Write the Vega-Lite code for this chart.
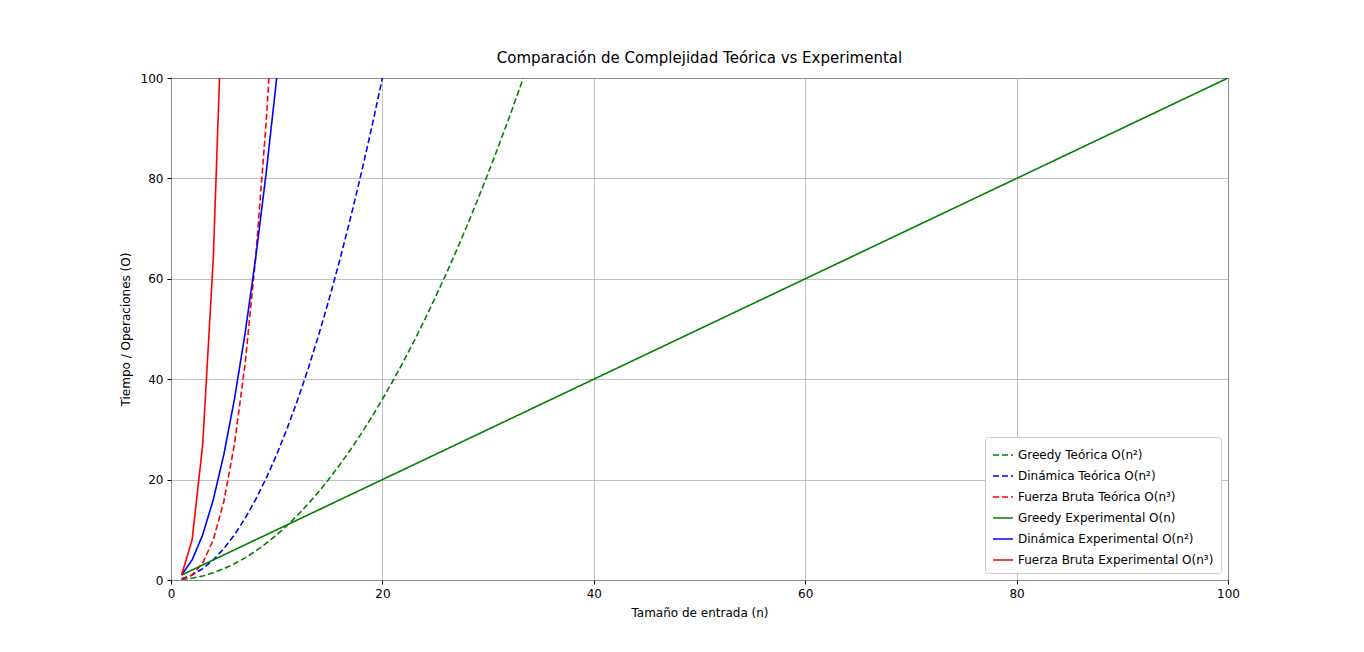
{
  "$schema": "https://vega.github.io/schema/vega-lite/v6.json",
  "width": 1057,
  "height": 502,
  "autosize": "none",
  "padding": {"left": 171, "top": 78, "right": 136, "bottom": 72},
  "title": {"text": "Comparación de Complejidad Teórica vs Experimental", "font": "DejaVu Sans", "fontSize": 15, "fontWeight": "normal", "color": "black", "offset": 6},
  "data": {"values": [
    {"s": "Greedy Teórica O(n²)", "n": 1, "y": 0.09}, {"s": "Greedy Teórica O(n²)", "n": 2, "y": 0.36}, {"s": "Greedy Teórica O(n²)", "n": 3, "y": 0.81}, {"s": "Greedy Teórica O(n²)", "n": 4, "y": 1.44}, {"s": "Greedy Teórica O(n²)", "n": 5, "y": 2.25}, {"s": "Greedy Teórica O(n²)", "n": 6, "y": 3.24}, {"s": "Greedy Teórica O(n²)", "n": 7, "y": 4.41}, {"s": "Greedy Teórica O(n²)", "n": 8, "y": 5.76}, {"s": "Greedy Teórica O(n²)", "n": 9, "y": 7.29}, {"s": "Greedy Teórica O(n²)", "n": 10, "y": 9}, {"s": "Greedy Teórica O(n²)", "n": 11, "y": 10.89}, {"s": "Greedy Teórica O(n²)", "n": 12, "y": 12.96}, {"s": "Greedy Teórica O(n²)", "n": 13, "y": 15.21}, {"s": "Greedy Teórica O(n²)", "n": 14, "y": 17.64}, {"s": "Greedy Teórica O(n²)", "n": 15, "y": 20.25}, {"s": "Greedy Teórica O(n²)", "n": 16, "y": 23.04}, {"s": "Greedy Teórica O(n²)", "n": 17, "y": 26.01}, {"s": "Greedy Teórica O(n²)", "n": 18, "y": 29.16}, {"s": "Greedy Teórica O(n²)", "n": 19, "y": 32.49}, {"s": "Greedy Teórica O(n²)", "n": 20, "y": 36}, {"s": "Greedy Teórica O(n²)", "n": 21, "y": 39.69}, {"s": "Greedy Teórica O(n²)", "n": 22, "y": 43.56}, {"s": "Greedy Teórica O(n²)", "n": 23, "y": 47.61}, {"s": "Greedy Teórica O(n²)", "n": 24, "y": 51.84}, {"s": "Greedy Teórica O(n²)", "n": 25, "y": 56.25}, {"s": "Greedy Teórica O(n²)", "n": 26, "y": 60.84}, {"s": "Greedy Teórica O(n²)", "n": 27, "y": 65.61}, {"s": "Greedy Teórica O(n²)", "n": 28, "y": 70.56}, {"s": "Greedy Teórica O(n²)", "n": 29, "y": 75.69}, {"s": "Greedy Teórica O(n²)", "n": 30, "y": 81}, {"s": "Greedy Teórica O(n²)", "n": 31, "y": 86.49}, {"s": "Greedy Teórica O(n²)", "n": 32, "y": 92.16}, {"s": "Greedy Teórica O(n²)", "n": 33, "y": 98.01}, {"s": "Greedy Teórica O(n²)", "n": 34, "y": 104.04},
    {"s": "Dinámica Teórica O(n²)", "n": 1, "y": 0.25}, {"s": "Dinámica Teórica O(n²)", "n": 2, "y": 1}, {"s": "Dinámica Teórica O(n²)", "n": 3, "y": 2.25}, {"s": "Dinámica Teórica O(n²)", "n": 4, "y": 4}, {"s": "Dinámica Teórica O(n²)", "n": 5, "y": 6.25}, {"s": "Dinámica Teórica O(n²)", "n": 6, "y": 9}, {"s": "Dinámica Teórica O(n²)", "n": 7, "y": 12.25}, {"s": "Dinámica Teórica O(n²)", "n": 8, "y": 16}, {"s": "Dinámica Teórica O(n²)", "n": 9, "y": 20.25}, {"s": "Dinámica Teórica O(n²)", "n": 10, "y": 25}, {"s": "Dinámica Teórica O(n²)", "n": 11, "y": 30.25}, {"s": "Dinámica Teórica O(n²)", "n": 12, "y": 36}, {"s": "Dinámica Teórica O(n²)", "n": 13, "y": 42.25}, {"s": "Dinámica Teórica O(n²)", "n": 14, "y": 49}, {"s": "Dinámica Teórica O(n²)", "n": 15, "y": 56.25}, {"s": "Dinámica Teórica O(n²)", "n": 16, "y": 64}, {"s": "Dinámica Teórica O(n²)", "n": 17, "y": 72.25}, {"s": "Dinámica Teórica O(n²)", "n": 18, "y": 81}, {"s": "Dinámica Teórica O(n²)", "n": 19, "y": 90.25}, {"s": "Dinámica Teórica O(n²)", "n": 20, "y": 100},
    {"s": "Fuerza Bruta Teórica O(n³)", "n": 1, "y": 0.125}, {"s": "Fuerza Bruta Teórica O(n³)", "n": 2, "y": 1}, {"s": "Fuerza Bruta Teórica O(n³)", "n": 3, "y": 3.375}, {"s": "Fuerza Bruta Teórica O(n³)", "n": 4, "y": 8}, {"s": "Fuerza Bruta Teórica O(n³)", "n": 5, "y": 15.625}, {"s": "Fuerza Bruta Teórica O(n³)", "n": 6, "y": 27}, {"s": "Fuerza Bruta Teórica O(n³)", "n": 7, "y": 42.875}, {"s": "Fuerza Bruta Teórica O(n³)", "n": 8, "y": 64}, {"s": "Fuerza Bruta Teórica O(n³)", "n": 9, "y": 91.125}, {"s": "Fuerza Bruta Teórica O(n³)", "n": 10, "y": 125},
    {"s": "Greedy Experimental O(n)", "n": 1, "y": 1}, {"s": "Greedy Experimental O(n)", "n": 100, "y": 100},
    {"s": "Dinámica Experimental O(n²)", "n": 1, "y": 1}, {"s": "Dinámica Experimental O(n²)", "n": 2, "y": 4}, {"s": "Dinámica Experimental O(n²)", "n": 3, "y": 9}, {"s": "Dinámica Experimental O(n²)", "n": 4, "y": 16}, {"s": "Dinámica Experimental O(n²)", "n": 5, "y": 25}, {"s": "Dinámica Experimental O(n²)", "n": 6, "y": 36}, {"s": "Dinámica Experimental O(n²)", "n": 7, "y": 49}, {"s": "Dinámica Experimental O(n²)", "n": 8, "y": 64}, {"s": "Dinámica Experimental O(n²)", "n": 9, "y": 81}, {"s": "Dinámica Experimental O(n²)", "n": 10, "y": 100},
    {"s": "Fuerza Bruta Experimental O(n³)", "n": 1, "y": 1}, {"s": "Fuerza Bruta Experimental O(n³)", "n": 2, "y": 8}, {"s": "Fuerza Bruta Experimental O(n³)", "n": 3, "y": 27}, {"s": "Fuerza Bruta Experimental O(n³)", "n": 4, "y": 64}, {"s": "Fuerza Bruta Experimental O(n³)", "n": 5, "y": 125}
  ]},
  "mark": {"type": "line", "clip": true, "strokeWidth": 1.6},
  "encoding": {
    "x": {"field": "n", "type": "quantitative", "scale": {"domain": [0, 100], "nice": false}, "title": "Tamaño de entrada (n)",
      "axis": {"values": [0, 20, 40, 60, 80, 100], "grid": true}},
    "y": {"field": "y", "type": "quantitative", "scale": {"domain": [0, 100], "nice": false}, "title": "Tiempo / Operaciones (O)",
      "axis": {"values": [0, 20, 40, 60, 80, 100], "grid": true}},
    "color": {"field": "s", "type": "nominal", "title": null,
      "scale": {"domain": ["Greedy Teórica O(n²)", "Dinámica Teórica O(n²)", "Fuerza Bruta Teórica O(n³)", "Greedy Experimental O(n)", "Dinámica Experimental O(n²)", "Fuerza Bruta Experimental O(n³)"],
        "range": ["green", "blue", "red", "green", "blue", "red"]}},
    "strokeDash": {"field": "s", "type": "nominal", "title": null,
      "scale": {"domain": ["Greedy Teórica O(n²)", "Dinámica Teórica O(n²)", "Fuerza Bruta Teórica O(n³)", "Greedy Experimental O(n)", "Dinámica Experimental O(n²)", "Fuerza Bruta Experimental O(n³)"],
        "range": [[6, 3], [6, 3], [6, 3], [1, 0], [1, 0], [1, 0]]}}
  },
  "config": {
    "font": "DejaVu Sans",
    "view": {"stroke": "black", "strokeWidth": 1},
    "axis": {"domain": false, "labelFlush": false, "labelOverlap": false, "tickColor": "black", "tickSize": 4, "labelColor": "black", "labelFontSize": 12, "titleFontSize": 12, "titleFontWeight": "normal", "titleColor": "black", "gridColor": "#b0b0b0", "gridWidth": 0.8, "labelPadding": 4, "titlePadding": 8},
    "legend": {"orient": "bottom-right", "offset": 7, "labelFontSize": 12, "labelColor": "black", "symbolType": "stroke", "symbolSize": 400, "symbolStrokeWidth": 1.6, "rowPadding": 4, "padding": 7, "strokeColor": "#cccccc", "fillColor": "white", "cornerRadius": 3, "labelLimit": 400}
  }
}
